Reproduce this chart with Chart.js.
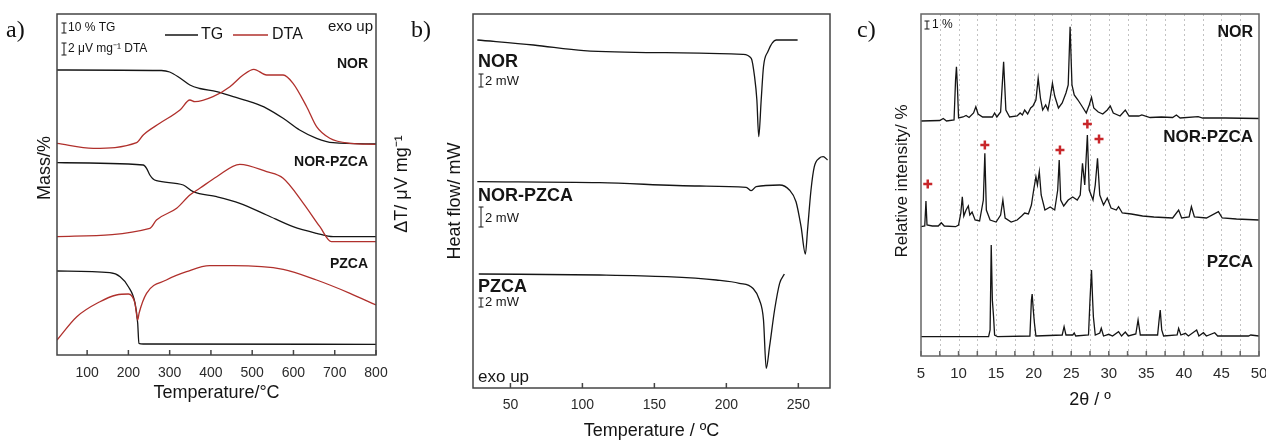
<!DOCTYPE html>
<html>
<head>
<meta charset="utf-8">
<script src="https://cdn.jsdelivr.net/npm/chart.js@4.4.1/dist/chart.umd.min.js"></script>
<style>
  body { margin: 0; background: #fff; }
  #wrap { position: relative; width: 1266px; height: 441px; overflow: hidden; }
  canvas { position: absolute; top: 0; }
  .tag { position: absolute; top: 16px; font: 24px 'Liberation Serif', 'Times New Roman', serif; color: #111; }
</style>
</head>
<body>
<div id="wrap">
  <canvas id="tga" width="415" height="441" style="left:0"></canvas>
  <canvas id="dsc" width="440" height="441" style="left:400px"></canvas>
  <canvas id="xrd" width="426" height="441" style="left:840px"></canvas>
  <div class="tag" style="left:6px">a)</div>
  <div class="tag" style="left:411px">b)</div>
  <div class="tag" style="left:857px">c)</div>
</div>
<script>
// ---- a) TG / DTA (display units, curves stacked) ----
const NOR_TG_T = [27, 280, 300, 325, 349, 373, 414, 454, 502, 535, 575, 615, 656, 696, 800];
const NOR_TG = [285, 284.5, 283, 277, 270, 266.5, 263.3, 258.3, 252.3, 246.7, 236.7, 225, 216.7, 212.3, 211];
const NOR_DTA_T = [27, 115, 220, 236, 276, 325, 349, 361, 405, 446, 478, 504, 535, 575, 599, 632, 656, 688, 737, 800];
const NOR_DTA = [211.7, 206.7, 212.3, 220, 231.7, 245, 255, 253.3, 258.3, 268.3, 280, 285.7, 280, 280, 271.7, 248.3, 228.3, 216.7, 211.7, 210.7];
const MIX_TG_T = [27, 236, 244, 252, 260, 268, 333, 357, 414, 470, 535, 599, 656, 696, 800];
const MIX_TG = [192.3, 190, 186.7, 180, 176, 174.3, 170, 163.3, 158.3, 151.7, 140, 128.3, 121.7, 118.3, 118.3];
const MIX_DTA_T = [27, 252, 268, 317, 349, 373, 414, 470, 535, 575, 624, 664, 692, 800];
const MIX_DTA = [118.3, 126.7, 135, 146.7, 160, 166.7, 178.3, 190.7, 183.3, 176.7, 151.7, 128.3, 113.3, 113.3];
const PZ_TG_T = [27, 155, 180, 200, 216, 222.5, 225.5, 236, 800];
const PZ_TG = [84, 82.3, 78.3, 68.3, 52, 32, 11.7, 11, 10.7];
const PZ_DTA_T = [27, 75, 131, 171, 200, 216, 222.5, 226, 244, 292, 341, 397, 454, 575, 656, 737, 800];
const PZ_DTA = [15, 38.3, 53.3, 60, 61, 51.7, 35, 42, 61.7, 75, 83.3, 89.3, 89.3, 85.7, 75, 61.7, 50];
const TGA_TICKS = [100, 200, 300, 400, 500, 600, 700, 800];

// ---- b) DSC ----
const DSC_NOR_T = [27, 66, 101, 158, 211.5, 217.3, 219.6, 221.2, 222.5, 224.2, 225.8, 228.8, 234.6, 249.5];
const DSC_NOR = [348, 343, 337.3, 335.3, 333.7, 329.7, 311.3, 288, 251.3, 288, 321.3, 336.3, 348, 348];
const DSC_MIX_T = [27, 112, 181.5, 213.8, 217.3, 220.7, 237, 243.8, 248.4, 251.9, 254.9, 256.4, 258.8, 261.1, 264.5, 267.3, 270.3];
const DSC_MIX = [206.3, 205.3, 202, 200.7, 197.3, 201.3, 203, 198, 186.3, 161.3, 134, 158, 198, 221.3, 229.7, 231.3, 228];
const DSC_PZ_T = [28, 112, 158.5, 193, 209, 218.4, 223, 225.8, 227.7, 230, 233.5, 237, 240.3];
const DSC_PZ = [114, 113, 111.3, 108, 104.7, 99.7, 88, 68, 19.7, 41.3, 78, 104.7, 114];
const DSC_TICKS = [50, 100, 150, 200, 250];

// ---- c) XRD ----
const NOR_2T = [5, 7.5, 7.96, 8.4, 9.4, 9.6, 9.72, 9.85, 10, 10.6, 11, 11.4, 12, 12.3, 12.6, 13.2, 14.5, 14.8, 15.1, 15.6,
  16, 16.3, 16.8, 17.8, 18.2, 18.5, 18.8, 19.2, 19.6, 19.9, 20.3, 20.6, 20.9, 21.2, 21.6, 21.9, 22.2, 22.5, 22.8, 23.3,
  23.8, 24.3, 24.6, 24.85, 25.1, 25.4, 25.9, 26.5, 27, 27.4, 27.7, 28, 28.6, 29.2, 29.8, 30.2, 30.6, 31.5, 32.2, 32.7,
  34, 34.4, 35.5, 37, 38.5, 39, 39.5, 41.9, 42.5, 45.5, 50];
const NOR_I = [235, 235.5, 237.5, 235, 236, 276, 289.3, 269, 238, 239, 240.5, 238.5, 243, 249.3, 242, 239, 239, 243, 239, 244,
  294.3, 246, 239, 240, 243, 241, 246, 242, 248, 250, 256, 277.7, 258, 246, 251, 246, 258, 272.7, 260, 248,
  253, 263, 271, 329.3, 271, 261, 256, 249, 243, 251, 258.7, 248, 244, 242, 246, 250, 243, 240, 246, 240,
  240, 241, 238.5, 239, 238.5, 241, 238, 239.3, 238, 238, 237.5];
const MIX_2T = [5, 5.5, 5.66, 5.8, 6.5, 7.3, 7.7, 8.1, 9.6, 10, 10.3, 10.5, 10.7, 11, 11.3, 11.5, 11.8, 12.2, 12.8, 13.3,
  13.5, 13.7, 14.2, 15, 15.6, 15.9, 16.2, 17, 17.8, 18.4, 18.8, 19.3, 19.7, 20, 20.3, 20.5, 20.75, 21, 21.5, 22.2,
  22.8, 23.2, 23.4, 23.6, 24, 24.6, 25.2, 25.8, 26.2, 26.5, 26.8, 27.15, 27.4, 27.9, 28.2, 28.5, 28.8, 29.3, 29.8, 30.3,
  31, 31.3, 31.8, 33, 34.5, 36, 38.5, 39.3, 39.7, 40.7, 41, 41.4, 43, 44.6, 45.1, 47, 50];
const MIX_I = [129.3, 130, 155, 131, 130, 130, 133.3, 130, 129.3, 131, 143, 159.3, 140, 146, 150, 141, 144, 136, 135, 156,
  202.7, 146, 136, 134, 141, 156, 138, 134, 136, 140, 143, 142, 151, 166, 179.3, 171, 184.3, 161, 146, 149,
  146, 166, 196, 156, 150, 156, 159, 156, 161, 192.7, 171, 221, 166, 156, 171, 197.7, 161, 151, 158, 148,
  146, 149.3, 143, 142, 140, 139, 138, 146, 138, 139, 149.3, 139, 138, 144.3, 138, 137, 136];
const PZ_2T = [5, 14, 14.2, 14.35, 14.5, 14.66, 14.8, 15.2, 19.5, 19.7, 19.8, 19.95, 20.1, 20.3, 23.8, 24.05, 24.3, 25.2, 25.4, 25.6,
  27.3, 27.5, 27.7, 27.85, 27.95, 28.2, 28.8, 29, 29.3, 30, 30.5, 31.3, 31.7, 32.2, 32.6, 33.6, 33.9, 34.2, 36.5, 36.7,
  36.85, 37.05, 37.3, 39.1, 39.3, 39.6, 40.2, 40.6, 41.7, 42, 42.6, 43, 44.1, 44.5, 48.6, 48.9, 50];
const PZ_I = [19.3, 19.3, 26, 111, 56, 39.3, 21, 19.3, 20, 56, 62, 46, 33, 20, 21, 29.3, 21, 21, 23, 20,
  21, 56, 86, 56, 39.3, 21, 23, 27.7, 20, 21.7, 20, 24.3, 20, 24, 20, 22, 36, 21, 21, 36,
  46, 26, 20, 21, 27.7, 21, 22.7, 20, 26, 20, 23.3, 20, 23.3, 20, 20, 21, 20];
const CROSS_2T = [5.9, 13.5, 23.5, 27.15, 28.7];
const CROSS_I = [172, 211, 206, 232, 217];
const XRD_TICKS = [5, 7.5, 10, 12.5, 15, 17.5, 20, 22.5, 25, 27.5, 30, 32.5, 35, 37.5, 40, 42.5, 45, 47.5, 50];

const SANS = "Arial, 'Liberation Sans', sans-serif";
const RED = '#b0302c';
const INK = '#151515';

const pts = (xs, ys) => xs.map((x, i) => ({x: x, y: ys[i]}));
const line = (xs, ys, color) => ({data: pts(xs, ys), borderColor: color || INK, borderWidth: 1.3, pointRadius: 0, tension: 0});
// thermal curves are smooth, XRD stays piecewise linear
const smooth = (xs, ys, color) => Object.assign(line(xs, ys, color), {cubicInterpolationMode: 'monotone'});

// frame, inner ticks, dotted grid, texts, scale bars, legend keys
function deco(cfg) {
  return {
    id: 'deco',
    beforeDatasetsDraw(chart) {
      const {ctx, chartArea: a, scales: {x}} = chart;
      if (!cfg.grid) return;
      ctx.save();
      ctx.strokeStyle = '#c2c2c2';
      ctx.lineWidth = 1;
      ctx.setLineDash([2, 3]);
      cfg.grid.forEach(v => {
        const px = Math.round(x.getPixelForValue(v)) + 0.5;
        ctx.beginPath(); ctx.moveTo(px, a.top); ctx.lineTo(px, a.bottom); ctx.stroke();
      });
      ctx.restore();
    },
    afterDraw(chart) {
      const {ctx, chartArea: a, scales: {x}} = chart;
      ctx.save();
      ctx.strokeStyle = cfg.frame;
      ctx.lineWidth = 1.5;
      ctx.strokeRect(a.left, a.top, a.right - a.left, a.bottom - a.top);
      x.ticks.forEach(t => {
        const px = x.getPixelForValue(t.value);
        ctx.beginPath(); ctx.moveTo(px, a.bottom); ctx.lineTo(px, a.bottom - 5); ctx.stroke();
      });
      ctx.strokeStyle = INK;
      ctx.lineWidth = 1;
      (cfg.bars || []).forEach(b => {
        ctx.beginPath();
        ctx.moveTo(b[0], b[1]); ctx.lineTo(b[0], b[2]);
        ctx.moveTo(b[0] - 2.5, b[1]); ctx.lineTo(b[0] + 2.5, b[1]);
        ctx.moveTo(b[0] - 2.5, b[2]); ctx.lineTo(b[0] + 2.5, b[2]);
        ctx.stroke();
      });
      (cfg.keys || []).forEach(k => {
        ctx.strokeStyle = k.color; ctx.lineWidth = 1.5;
        ctx.beginPath(); ctx.moveTo(k.x0, k.y); ctx.lineTo(k.x1, k.y); ctx.stroke();
      });
      (cfg.texts || []).forEach(t => {
        ctx.save();
        ctx.font = t.font;
        ctx.fillStyle = t.color || INK;
        ctx.textAlign = t.align || 'left';
        ctx.textBaseline = 'middle';
        ctx.translate(t.x, t.y);
        if (t.rot) ctx.rotate(t.rot);
        ctx.fillText(t.text, 0, 0);
        ctx.restore();
      });
      ctx.restore();
    }
  };
}

function options(c) {
  return {
    responsive: false,
    animation: false,
    layout: {padding: c.pad},
    plugins: {legend: {display: false}, tooltip: {enabled: false}},
    scales: {
      x: {
        type: 'linear', min: c.xmin, max: c.xmax,
        afterFit: s => { s.height = c.xh; s.paddingLeft = 0; s.paddingRight = 0; },
        afterBuildTicks: s => { s.ticks = c.ticks.map(v => ({value: v})); },
        grid: {display: false, drawTicks: false},
        border: {display: false},
        ticks: {padding: c.tickPad, color: '#2a2a2a', autoSkip: false, maxRotation: 0,
                font: {family: SANS, size: c.tickSize}, callback: c.fmt || (v => v)},
        title: {display: true, text: c.title, color: INK, font: {family: SANS, size: 18},
                padding: {top: 0, bottom: c.titlePad}}
      },
      y: {display: false, min: c.ymin, max: c.ymax}
    }
  };
}

const ROT = -Math.PI / 2;

// a)
new Chart(document.getElementById('tga'), {
  type: 'line',
  data: {datasets: [
    smooth(NOR_DTA_T, NOR_DTA, RED), smooth(NOR_TG_T, NOR_TG),
    smooth(MIX_DTA_T, MIX_DTA, RED), smooth(MIX_TG_T, MIX_TG),
    smooth(PZ_DTA_T, PZ_DTA, RED), smooth(PZ_TG_T, PZ_TG)
  ]},
  options: options({pad: {left: 57, right: 39, top: 14, bottom: 0}, xmin: 27, xmax: 800, xh: 86,
    ticks: TGA_TICKS, tickPad: 10, tickSize: 14, title: 'Temperature/°C', titlePad: 37, ymin: 0, ymax: 341}),
  plugins: [deco({
    frame: '#444',
    bars: [[64, 23, 33], [64, 43, 55]],
    keys: [{x0: 165, x1: 198, y: 35, color: INK}, {x0: 233, x1: 268, y: 35, color: RED}],
    texts: [
      {text: '10 % TG', x: 68, y: 28, font: '12px ' + SANS},
      {text: '2 μV mg⁻¹ DTA', x: 68, y: 49, font: '12px ' + SANS},
      {text: 'TG', x: 201, y: 35, font: '16px ' + SANS},
      {text: 'DTA', x: 272, y: 35, font: '16px ' + SANS},
      {text: 'exo up', x: 373, y: 27, align: 'right', font: '15px ' + SANS},
      {text: 'NOR', x: 368, y: 64, align: 'right', font: 'bold 14px ' + SANS},
      {text: 'NOR-PZCA', x: 368, y: 162, align: 'right', font: 'bold 14px ' + SANS},
      {text: 'PZCA', x: 368, y: 264, align: 'right', font: 'bold 14px ' + SANS},
      {text: 'Mass/%', x: 45, y: 168, rot: ROT, align: 'center', font: '18px ' + SANS},
      {text: 'ΔT/ μV mg⁻¹', x: 402, y: 184, rot: ROT, align: 'center', font: '18px ' + SANS}
    ]
  })]
});

// b)
new Chart(document.getElementById('dsc'), {
  type: 'line',
  data: {datasets: [
    smooth(DSC_NOR_T, DSC_NOR), smooth(DSC_MIX_T, DSC_MIX), smooth(DSC_PZ_T, DSC_PZ)
  ]},
  options: options({pad: {left: 73, right: 10, top: 14, bottom: 0}, xmin: 24, xmax: 272, xh: 53,
    ticks: DSC_TICKS, tickPad: 9, tickSize: 14, title: 'Temperature / ºC', titlePad: -1, ymin: 0, ymax: 374}),
  plugins: [deco({
    frame: '#444',
    bars: [[81, 74, 87], [81, 207, 227], [81, 298, 307]],
    texts: [
      {text: 'NOR', x: 78, y: 62, font: 'bold 18px ' + SANS},
      {text: '2 mW', x: 85, y: 81, font: '13px ' + SANS},
      {text: 'NOR-PZCA', x: 78, y: 196, font: 'bold 18px ' + SANS},
      {text: '2 mW', x: 85, y: 218, font: '13px ' + SANS},
      {text: 'PZCA', x: 78, y: 287, font: 'bold 18px ' + SANS},
      {text: '2 mW', x: 85, y: 302, font: '13px ' + SANS},
      {text: 'exo up', x: 78, y: 377, font: '17px ' + SANS},
      {text: 'Heat flow/ mW', x: 55, y: 201, rot: ROT, align: 'center', font: '18px ' + SANS}
    ]
  })]
});

// c)
const crosses = {
  data: pts(CROSS_2T, CROSS_I), showLine: false, pointStyle: 'cross',
  pointRadius: 4.5, pointBorderWidth: 2.5, pointBorderColor: '#c8262a', borderColor: '#c8262a'
};
new Chart(document.getElementById('xrd'), {
  type: 'line',
  data: {datasets: [
    line(NOR_2T, NOR_I), line(MIX_2T, MIX_I), line(PZ_2T, PZ_I), crosses
  ]},
  options: options({pad: {left: 81, right: 5, top: 14, bottom: 0}, xmin: 5, xmax: 50, xh: 85,
    ticks: XRD_TICKS, tickPad: 9, tickSize: 15, fmt: v => (v % 5 === 0 ? v : ''),
    title: '2θ / º', titlePad: 30, ymin: 0, ymax: 342}),
  plugins: [deco({
    frame: '#666',
    grid: XRD_TICKS.slice(1, -1),
    bars: [[87, 21, 29]],
    texts: [
      {text: '1 %', x: 92, y: 25, font: '12px ' + SANS},
      {text: 'NOR', x: 413, y: 33, align: 'right', font: 'bold 16px ' + SANS},
      {text: 'NOR-PZCA', x: 413, y: 137, align: 'right', font: 'bold 17px ' + SANS},
      {text: 'PZCA', x: 413, y: 262, align: 'right', font: 'bold 17px ' + SANS},
      {text: 'Relative intensity/ %', x: 62, y: 181, rot: ROT, align: 'center', font: '17px ' + SANS}
    ]
  })]
});
</script>
</body>
</html>
